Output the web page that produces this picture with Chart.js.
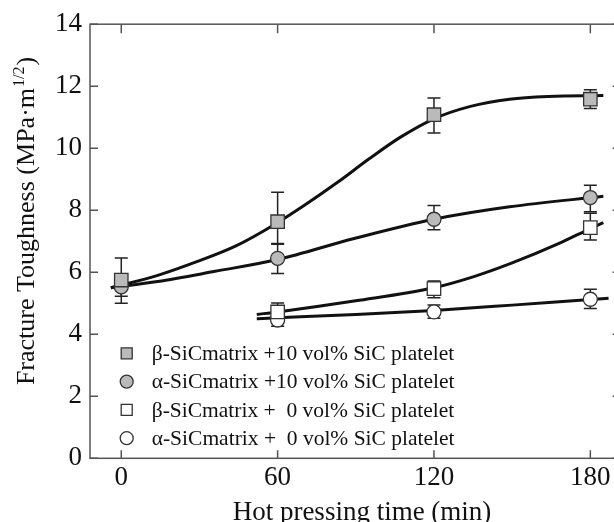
<!DOCTYPE html>
<html>
<head>
<meta charset="utf-8">
<script src="https://cdn.jsdelivr.net/npm/chart.js@4.4.1/dist/chart.umd.min.js"></script>
<style>
  html, body { margin: 0; padding: 0; background: #fff; }
  #wrap { width: 614px; height: 522px; overflow: hidden; position: relative; }
  #grafica { position: absolute; left: 0; top: 0; }
</style>
</head>
<body>
<div id="wrap"><canvas id="grafica" width="640" height="522"></canvas></div>
<script>
/********** datos **********/
const times = [0, 60, 120, 180];
const times0 = [60, 120, 180];
const xTicks = [0, 60, 120, 180];
const yTicks = [0, 2, 4, 6, 8, 10, 12, 14];

const labels = [
  'β-SiCmatrix +10 vol% SiC platelet',
  'α-SiCmatrix +10 vol% SiC platelet',
  'β-SiCmatrix +  0 vol% SiC platelet',
  'α-SiCmatrix +  0 vol% SiC platelet'
];

const betaPlatelet = [5.75, 7.63, 11.08, 11.58];
const betaPlateletHigh = [6.46, 8.58, 11.62, 11.89];
const betaPlateletLow = [5.0, 6.9, 10.49, 11.28];

const alphaPlatelet = [5.53, 6.45, 7.71, 8.41];
const alphaPlateletHigh = [5.83, 6.93, 8.15, 8.81];
const alphaPlateletLow = [5.23, 5.96, 7.37, 7.95];

const betaMatrix = [4.72, 5.47, 7.44];
const betaMatrixHigh = [5.01, 5.72, 7.9];
const betaMatrixLow = [4.43, 5.18, 7.04];

const alphaMatrix = [4.46, 4.72, 5.13];
const alphaMatrixHigh = [4.66, 4.94, 5.45];
const alphaMatrixLow = [4.26, 4.52, 4.83];

// curvas ajustadas
const betaPlateletCurveX = [-4, 14, 29, 44, 59, 71, 83, 95, 107, 120, 134, 149, 164, 185];
const betaPlateletCurveY = [5.5, 5.9, 6.34, 6.85, 7.55, 8.2, 8.9, 9.65, 10.35, 10.95, 11.35, 11.58, 11.67, 11.7];
const alphaPlateletCurveX = [-4, 14, 36, 60, 89, 120, 149, 185];
const alphaPlateletCurveY = [5.5, 5.7, 6.03, 6.41, 7.08, 7.71, 8.11, 8.45];
const betaMatrixCurveX = [52, 60, 90, 120, 135, 150, 168, 180, 185];
const betaMatrixCurveY = [4.64, 4.72, 5.08, 5.5, 5.85, 6.3, 6.93, 7.41, 7.6];
const alphaMatrixCurveX = [52, 60, 90, 120, 150, 180, 187];
const alphaMatrixCurveY = [4.5, 4.53, 4.64, 4.77, 4.94, 5.12, 5.16];

const serif = '"Liberation Serif", "Times New Roman", serif';
const grayFill = '#bababa';

const pts = (xs, ys) => xs.map((x, i) => ({ x: x, y: ys[i] }));

const errorBars = [
  { t: times, high: betaPlateletHigh, low: betaPlateletLow },
  { t: times, high: alphaPlateletHigh, low: alphaPlateletLow },
  { t: times0, high: betaMatrixHigh, low: betaMatrixLow },
  { t: times0, high: alphaMatrixHigh, low: alphaMatrixLow }
];

const marker = (label, data, style, fill, radius) => ({
  label: label,
  data: data,
  showLine: false,
  pointStyle: style,
  pointRadius: radius,
  pointBackgroundColor: fill,
  pointBorderColor: '#333',
  pointBorderWidth: 1.3
});

const curve = (data) => ({
  data: data,
  showLine: true,
  borderColor: '#111',
  borderWidth: 3,
  pointRadius: 0,
  cubicInterpolationMode: 'monotone',
  isCurve: true
});

/********** plugin: marco, ticks hacia dentro, barras de error, leyenda **********/
const extras = {
  id: 'extras',
  beforeDatasetsDraw(chart) {
    const ctx = chart.ctx, sx = chart.scales.x, sy = chart.scales.y;
    ctx.save();
    ctx.strokeStyle = '#222';
    ctx.lineWidth = 1.5;
    errorBars.forEach(e => {
      e.t.forEach((t, i) => {
        const px = sx.getPixelForValue(t);
        const top = sy.getPixelForValue(e.high[i]);
        const bot = sy.getPixelForValue(e.low[i]);
        ctx.beginPath();
        ctx.moveTo(px, top); ctx.lineTo(px, bot);
        ctx.moveTo(px - 6.5, top); ctx.lineTo(px + 6.5, top);
        ctx.moveTo(px - 6.5, bot); ctx.lineTo(px + 6.5, bot);
        ctx.stroke();
      });
    });
    ctx.restore();
  },
  afterDraw(chart) {
    const ctx = chart.ctx, a = chart.chartArea;
    const sx = chart.scales.x, sy = chart.scales.y;
    ctx.save();
    // marco
    ctx.strokeStyle = '#555';
    ctx.lineWidth = 1.5;
    ctx.strokeRect(a.left, a.top, a.right - a.left, a.bottom - a.top);
    ctx.beginPath();
    xTicks.forEach(v => {
      const px = sx.getPixelForValue(v);
      ctx.moveTo(px, a.bottom); ctx.lineTo(px, a.bottom - 8);
      ctx.moveTo(px, a.top); ctx.lineTo(px, a.top + 9);
    });
    yTicks.forEach(v => {
      const py = sy.getPixelForValue(v);
      ctx.moveTo(a.left, py); ctx.lineTo(a.left + 8, py);
      ctx.moveTo(a.right, py); ctx.lineTo(a.right - 9, py);
    });
    ctx.stroke();

    // leyenda
    const lx = 126.7, ly = 353.3, row = 28.3;
    chart.data.datasets.filter(d => !d.isCurve).forEach((d, i) => {
      const cy = ly + i * row;
      ctx.fillStyle = d.pointBackgroundColor;
      ctx.strokeStyle = '#333';
      ctx.lineWidth = 1.3;
      ctx.beginPath();
      if (d.pointStyle === 'rect') {
        ctx.rect(lx - 5.5, cy - 5.5, 11, 11);
      } else {
        ctx.arc(lx, cy, 6.5, 0, Math.PI * 2);
      }
      ctx.fill();
      ctx.stroke();
      ctx.fillStyle = '#111';
      ctx.font = '21.5px ' + serif;
      ctx.textBaseline = 'middle';
      ctx.textAlign = 'left';
      ctx.fillText(d.label, lx + 25, cy + 1);
    });

    // titulo eje x
    ctx.fillStyle = '#111';
    ctx.font = '27px ' + serif;
    ctx.textAlign = 'center';
    ctx.textBaseline = 'alphabetic';
    ctx.fillText('Hot pressing time (min)', 362, 520);

    // titulo eje y con superindice
    const main = 'Fracture Toughness (MPa·m';
    ctx.font = '26px ' + serif;
    const w1 = ctx.measureText(main).width;
    const wClose = ctx.measureText(')').width;
    ctx.font = '16px ' + serif;
    const wSup = ctx.measureText('1/2').width;
    const total = w1 + wSup + wClose + 2;
    ctx.translate(34, 221 + total / 2);
    ctx.rotate(-Math.PI / 2);
    ctx.textAlign = 'left';
    ctx.font = '26px ' + serif;
    ctx.fillText(main, 0, 0);
    ctx.font = '16px ' + serif;
    ctx.fillText('1/2', w1 + 1, -10);
    ctx.font = '26px ' + serif;
    ctx.fillText(')', w1 + wSup + 2, 0);
    ctx.restore();
  }
};

let ctx = document.getElementById('grafica');
new Chart(ctx, {
  type: 'scatter',
  data: {
    datasets: [
      marker(labels[0], pts(times, betaPlatelet), 'rect', grayFill, 9.5),
      marker(labels[1], pts(times, alphaPlatelet), 'circle', grayFill, 7),
      marker(labels[2], pts(times0, betaMatrix), 'rect', '#fff', 9.5),
      marker(labels[3], pts(times0, alphaMatrix), 'circle', '#fff', 7),
      curve(pts(betaPlateletCurveX, betaPlateletCurveY)),
      curve(pts(alphaPlateletCurveX, alphaPlateletCurveY)),
      curve(pts(betaMatrixCurveX, betaMatrixCurveY)),
      curve(pts(alphaMatrixCurveX, alphaMatrixCurveY))
    ]
  },
  options: {
    responsive: false,
    devicePixelRatio: 1,
    animation: false,
    layout: { padding: { top: 24, right: 18.4, bottom: 0, left: 0 } },
    plugins: { legend: { display: false }, tooltip: { enabled: false } },
    scales: {
      x: {
        type: 'linear',
        min: -12,
        max: 192,
        afterBuildTicks: s => { s.ticks = xTicks.map(v => ({ value: v })); },
        afterFit: s => { s.height = 63.7; },
        grid: { display: false, drawTicks: false },
        border: { display: false },
        ticks: { padding: 3, color: '#111', font: { family: serif, size: 27 } }
      },
      y: {
        min: 0,
        max: 14,
        afterBuildTicks: s => { s.ticks = yTicks.map(v => ({ value: v })); },
        afterFit: s => { s.width = 90; },
        grid: { display: false, drawTicks: false },
        border: { display: false },
        ticks: { padding: 8, color: '#111', font: { family: serif, size: 27 } }
      }
    }
  },
  plugins: [extras]
});
</script>
</body>
</html>
